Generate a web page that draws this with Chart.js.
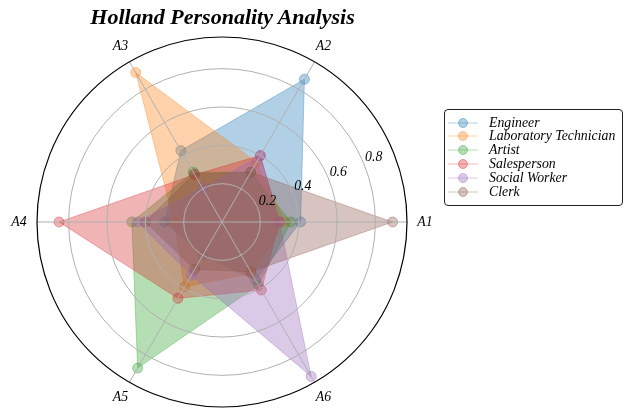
<!DOCTYPE html>
<html>
<head>
<meta charset="utf-8">
<script src="https://cdn.jsdelivr.net/npm/chart.js@4"></script>
<style>
  body { margin: 0; background: #fff; }
  #wrap { position: relative; width: 631px; height: 417px; }
  #titulo {
    position: absolute; left: 0; top: 4px; width: 445px; text-align: center;
    font: italic bold 22px "Liberation Serif", serif; line-height: 25px; color: #000;
  }
  #leyenda {
    position: absolute; left: 444px; top: 109px; width: 177px; height: 95px;
    border: 1px solid #222; border-radius: 4px; background: #fff;
  }
  .fila {
    position: absolute; left: 0; height: 14px; display: flex; align-items: center;
    font: italic 13.8px "Liberation Serif", serif; color: #000; white-space: nowrap;
  }
  .fila svg { margin-left: 3px; margin-right: 11px; }
</style>
</head>
<body>
<div id="wrap">
  <canvas id="myChart" width="631" height="417"></canvas>
  <div id="titulo">Holland Personality Analysis</div>
  <div id="leyenda"></div>
</div>
<script>
const ejes = ["A1", "A2", "A3", "A4", "A5", "A6"];
const perfiles = ["Engineer", "Laboratory Technician", "Artist", "Salesperson", "Social Worker", "Clerk"];
const colores = ["31,119,180", "255,127,14", "44,160,44", "214,39,40", "148,103,189", "140,86,75"];

// valores por eje A1..A6
const engineer = [0.41, 0.86, 0.43, 0.30, 0.20, 0.35];
const labTech = [0.33, 0.36, 0.90, 0.25, 0.39, 0.31];
const artist = [0.36, 0.30, 0.30, 0.47, 0.88, 0.38];
const salesperson = [0.30, 0.40, 0.285, 0.85, 0.46, 0.41];
const socialWorker = [0.30, 0.40, 0.205, 0.44, 0.32, 0.93];
const clerk = [0.89, 0.30, 0.29, 0.40, 0.285, 0.30];

const tickValores = [0.2, 0.4, 0.6, 0.8];
const rMax = 0.965;

const series = [engineer, labTech, artist, salesperson, socialWorker, clerk];

// chart.js gira en sentido horario, matplotlib al reves
const orden = [0, 5, 4, 3, 2, 1];
const alfa = 0.35;

const datasets = series.map((valores, i) => {
  const c = colores[i];
  return {
    label: perfiles[i],
    data: orden.map((k) => valores[k]),
    order: series.length - i, // el ultimo queda arriba
    borderColor: `rgba(${c},${alfa})`,
    borderWidth: 1,
    backgroundColor: `rgba(${c},${alfa})`,
    fill: true,
    pointRadius: 5,
    pointBackgroundColor: `rgba(${c},${alfa})`,
    pointBorderColor: `rgba(${c},0.4)`,
    pointBorderWidth: 1,
  };
});

const serif = '"Liberation Serif", serif';

const extras = {
  id: "extras",
  afterDraw(chart) {
    const scale = chart.scales.r;
    const ctx = chart.ctx;
    const cx = scale.xCenter;
    const cy = scale.yCenter;
    ctx.save();
    // borde exterior
    ctx.beginPath();
    ctx.arc(cx, cy, scale.drawingArea, 0, Math.PI * 2);
    ctx.strokeStyle = "#000";
    ctx.lineWidth = 1.2;
    ctx.stroke();

    ctx.fillStyle = "#000";
    ctx.textAlign = "center";
    ctx.textBaseline = "middle";
    ctx.font = `italic 13.8px ${serif}`;
    orden.forEach((k, idx) => {
      const p = scale.getPointPosition(idx, scale.drawingArea + 18);
      ctx.fillText(ejes[k], p.x, p.y);
    });

    const ang = (22.5 * Math.PI) / 180;
    tickValores.forEach((v) => {
      const d = scale.getDistanceFromCenterForValue(v);
      ctx.fillText(v.toFixed(1), cx + d * Math.cos(ang) + 10, cy - d * Math.sin(ang) - 6);
    });
    ctx.restore();
  },
};

new Chart(document.getElementById("myChart"), {
  type: "radar",
  data: { labels: orden.map((k) => ejes[k]), datasets },
  options: {
    responsive: false,
    animation: false,
    layout: { padding: { left: 37, top: 37, right: 224, bottom: 10 } },
    elements: { line: { tension: 0 } },
    plugins: { legend: { display: false }, tooltip: { enabled: false } },
    scales: {
      r: {
        min: 0,
        max: rMax,
        startAngle: 90,
        ticks: { display: false, stepSize: 0.2, includeBounds: false },
        grid: { circular: true, color: "#b0b0b0", lineWidth: 1, z: 1 },
        angleLines: { color: "#b0b0b0", lineWidth: 1 },
        pointLabels: { display: false },
      },
    },
  },
  plugins: [extras],
});

const leyenda = document.getElementById("leyenda");
perfiles.forEach((nombre, i) => {
  const c = colores[i];
  const fila = document.createElement("div");
  fila.className = "fila";
  fila.style.top = (5.5 + i * 13.85) + "px";
  fila.innerHTML =
    `<svg width="30" height="12"><line x1="0" y1="6" x2="30" y2="6" stroke="rgba(${c},${alfa})" stroke-width="1"/>` +
    `<circle cx="15" cy="6" r="4.5" fill="rgba(${c},${alfa})" stroke="rgba(${c},0.4)" stroke-width="1"/></svg>` +
    `<span>${nombre}</span>`;
  leyenda.append(fila);
});
</script>
</body>
</html>
